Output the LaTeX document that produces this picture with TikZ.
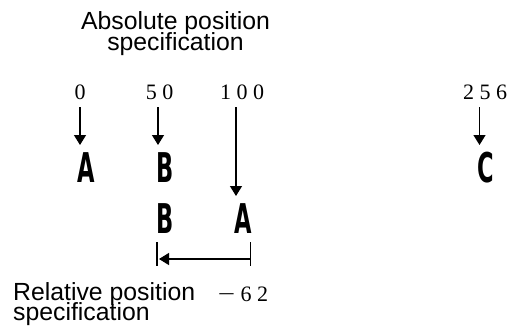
\documentclass[tikz,border=0pt]{standalone}
\usepackage{fontspec}
\usepackage{graphicx}
\setmainfont{Liberation Serif}
\newfontfamily\labelfont{Liberation Sans}
\newfontfamily\letterfont[FakeStretch=0.55]{DejaVu Sans}
\usetikzlibrary{arrows.meta}
\tikzset{
  lbl/.style={inner sep=0pt, font=\labelfont\fontsize{24.8}{24.8}\selectfont},
  num/.style={inner sep=0pt, anchor=base, font=\fontsize{22}{22}\selectfont},
  ltr/.style={inner sep=0pt, anchor=base, font=\letterfont\bfseries\fontsize{41}{41}\selectfont},
  pointer/.style={line width=1.3pt, -{Triangle[width=12pt,length=10pt]}},
  tick/.style={line width=1.3pt},
}
\begin{document}
\begin{tikzpicture}[x=1pt,y=-1pt]
\useasboundingbox (0,0) rectangle (519,329);
% title
\node[lbl, anchor=base] (t1) at (175.5,30) {Absolute position};
\node[lbl, anchor=base] (t2) at (175.5,51) {specification};
% numbers
\node[num] (n0) at (80,99) {0};
\node[num] (n50) at (159.5,99) {5 0};
\node[num] (n100) at (242,99) {1 0 0};
\node[num] (n256) at (485,99) {2 5 6};
% coordinates for arrow starts
\coordinate (s0) at (80,107);
\coordinate (s50) at (158,107);
\coordinate (s100) at (236,107);
\coordinate (s256) at (479.5,107);
% letters
\node[ltr] (A1) at (86.5,182) {A};
\node[ltr] (B1) at (165,182) {B};
\node[ltr] (C1) at (486,182) {C};
\node[ltr] (B2) at (165,233) {B};
\node[ltr] (A2) at (243.5,233) {A};
% arrow ends
\coordinate (e0) at (80,145);
\coordinate (e50) at (158,145);
\coordinate (e100) at (236,196);
\coordinate (e256) at (479.5,145);
\draw[pointer] (s0) -- (e0);
\draw[pointer] (s50) -- (e50);
\draw[pointer] (s100) -- (e100);
\draw[pointer] (s256) -- (e256);
% relative bracket
\coordinate (lt) at (157,242);
\coordinate (lb) at (157,266);
\coordinate (rt) at (250.5,242);
\coordinate (rb) at (250.5,266);
\coordinate (ra) at (250.5,259);
\coordinate (la) at (159,259);
\draw[tick] (lt) -- (lb);
\draw[tick] (rt) -- (rb);
\draw[pointer] (ra) -- (la);
% bottom labels
\node[lbl, anchor=base west] (r1) at (13,300) {Relative position};
\node[lbl, anchor=base west] (r2) at (13,320) {specification};
\node[num] (m62) at (243,301) {\scalebox{1.4}[1]{−} 6 2};
\end{tikzpicture}
\end{document}
